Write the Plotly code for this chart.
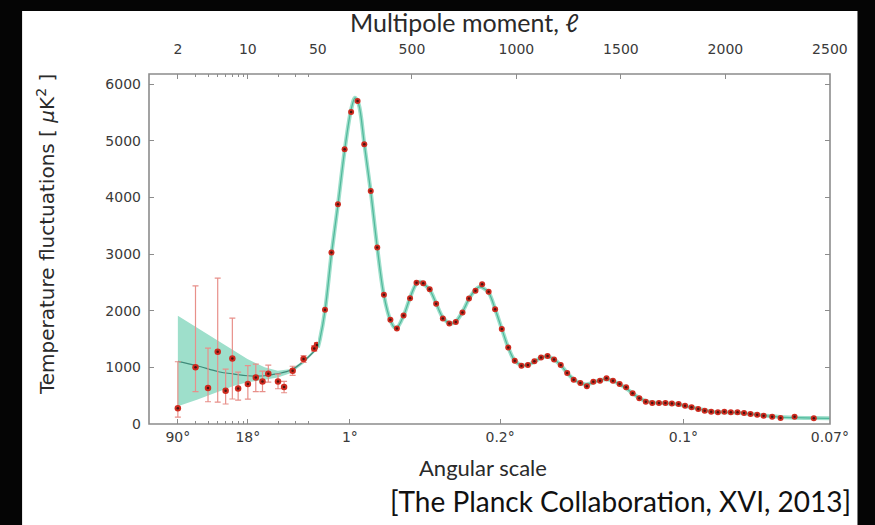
import math
import plotly.graph_objects as go

# ---------------- data ----------------
# low multipoles (log part of the axis)
low_ell = [2, 3, 4, 5, 6, 7, 8, 10, 12, 14, 16, 20, 23, 28, 36, 46, 49]
low_D = [277, 1000, 635, 1275, 587, 1158, 629, 705, 823, 752, 888, 752, 652, 940, 1146, 1335, 1393]
low_err_plus = [822, 1440, 705, 1300, 383, 712, 286, 325, 235, 180, 150, 130, 100, 80, 60, 50, 45]
low_err_minus = [154, 430, 242, 887, 234, 717, 206, 265, 253, 180, 150, 130, 100, 80, 60, 50, 45]

# high multipoles (linear part of the axis)
high_ell = [84, 115, 146, 178, 209, 240, 272, 303, 334, 366, 397, 428, 460, 491, 522, 554, 585,
            616, 648, 679, 710, 742, 773, 804, 836, 867, 898, 930, 961, 992, 1024, 1055, 1086,
            1118, 1149, 1180, 1212, 1243, 1274, 1306, 1337, 1368, 1400, 1431, 1462, 1494, 1525,
            1556, 1588, 1619, 1650, 1682, 1713, 1744, 1776, 1807, 1838, 1870, 1901, 1932, 1964,
            1995, 2026, 2058, 2089, 2120, 2152, 2183, 2224, 2264, 2331, 2423]
high_D = [2016, 3028, 3880, 4850, 5508, 5702, 4938, 4115, 3116, 2280, 1840, 1688, 1915, 2220, 2495,
          2484, 2381, 2125, 1864, 1776, 1800, 1970, 2217, 2351, 2469, 2334, 2028, 1676, 1352, 1117,
          1029, 1041, 1106, 1176, 1200, 1140, 1041, 899, 781, 723, 665, 746, 764, 806, 764, 705,
          647, 541, 453, 393, 370, 370, 370, 364, 353, 323, 294, 265, 235, 217, 206, 217, 206, 206,
          194, 176, 165, 147, 129, 106, 129, 100]

# best-fit model and cosmic-variance band
model_low_ell = [2, 3.1, 5.1, 7.3, 9.9, 14.7, 19.9, 27, 35.6, 50]
model_low_D = [1105, 1029, 923, 882, 852, 852, 888, 952, 1099, 1352]
band_low_upper = [1910, 1705, 1470, 1293, 1146, 1000, 940, 970, 1117, 1381]
band_low_lower = [312, 429, 570, 676, 735, 781, 823, 899, 1058, 1323]

model_high_ell = [50, 60, 84, 115, 146, 178, 209, 228, 245, 272, 303, 334, 366, 397, 415, 428, 460,
                  491, 522, 540, 554, 585, 616, 648, 679, 695, 710, 742, 773, 804, 822, 836, 867,
                  898, 930, 961, 992, 1024, 1055, 1086, 1118, 1149, 1180, 1212, 1243, 1274, 1306,
                  1337, 1368, 1400, 1431, 1462, 1494, 1525, 1556, 1588, 1619, 1650, 1682, 1713,
                  1744, 1776, 1807, 1838, 1870, 1901, 1932, 1964, 1995, 2026, 2058, 2089, 2120,
                  2152, 2183, 2224, 2264, 2331, 2423, 2500]
model_high_D = [1352, 1500, 2000, 3000, 3870, 4830, 5550, 5760, 5650, 4950, 4100, 3120, 2270, 1830,
                1710, 1700, 1910, 2230, 2480, 2510, 2480, 2370, 2130, 1880, 1780, 1780, 1810, 1980,
                2210, 2370, 2420, 2410, 2320, 2030, 1680, 1350, 1120, 1040, 1045, 1100, 1170, 1190,
                1140, 1040, 900, 790, 720, 700, 735, 775, 790, 760, 700, 630, 540, 460, 405, 380,
                372, 368, 360, 345, 320, 295, 268, 242, 222, 210, 206, 204, 200, 190, 177, 164, 150,
                135, 122, 112, 105, 100]

# axis ticks
top_low_ticks = [2, 10, 50]
top_high_ticks = [500, 1000, 1500, 2000, 2500]
bottom_low_ticks = [2, 10]
bottom_low_labels = ["90°", "18°"]
bottom_high_ticks = [203, 922, 1799, 2500]
bottom_high_labels = ["1°", "0.2°", "0.1°", "0.07°"]
y_ticks = [0, 1000, 2000, 3000, 4000, 5000, 6000]
minor_low = [3, 4, 5, 6, 7, 8, 9, 20, 30, 40]

# ---------------- geometry ----------------
W, H = 875, 525
L, R, T, B = 149, 830.5, 74, 424
pw, ph = R - L, B - T
split = (318 - L) / pw
LOG_RANGE = [math.log10(1.03), math.log10(50.02)]
LIN_RANGE = [49.98, 2500.5]
Y_RANGE = [0, 6180]


def px(xp):
    return (xp - L) / pw


def py(yp):
    return (B - yp) / ph


BAND = "#9edfcb"
LINE = "#3f8a79"
RED = "#cf2b1f"
ERR = "#e8908a"
AXC = "#8c8c8c"
TICKF = dict(family="DejaVu Sans", size=14, color="#3a3a3a")

fig = go.Figure()

# cosmic variance band at low ell
fig.add_trace(go.Scatter(
    x=model_low_ell + model_low_ell[::-1],
    y=band_low_upper + band_low_lower[::-1],
    xaxis="x", yaxis="y", fill="toself", fillcolor=BAND,
    line=dict(width=0), mode="lines", hoverinfo="skip", showlegend=False))
fig.add_trace(go.Scatter(x=model_low_ell, y=model_low_D, xaxis="x", yaxis="y", mode="lines",
                         line=dict(color=LINE, width=1.2, shape="spline"), showlegend=False))
# band + model at high ell
fig.add_trace(go.Scatter(x=model_high_ell, y=model_high_D, xaxis="x2", yaxis="y", mode="lines",
                         line=dict(color=BAND, width=4, shape="spline"), showlegend=False))
fig.add_trace(go.Scatter(x=model_high_ell, y=model_high_D, xaxis="x2", yaxis="y", mode="lines",
                         line=dict(color="#4fb89b", width=1.2, shape="spline"), showlegend=False))

# data
fig.add_trace(go.Scatter(
    x=low_ell, y=low_D, xaxis="x", yaxis="y", mode="markers",
    marker=dict(color=RED, size=6.5),
    error_y=dict(type="data", symmetric=False, array=low_err_plus, arrayminus=low_err_minus,
                 color=ERR, thickness=1.2, width=3),
    showlegend=False))
fig.add_trace(go.Scatter(x=high_ell, y=high_D, xaxis="x2", yaxis="y", mode="markers",
                         marker=dict(color=RED, size=6), showlegend=False))
# dark centres
fig.add_trace(go.Scatter(x=low_ell, y=low_D, xaxis="x", yaxis="y", mode="markers",
                         marker=dict(color="#4a1410", size=2.5), showlegend=False, hoverinfo="skip"))
fig.add_trace(go.Scatter(x=high_ell, y=high_D, xaxis="x2", yaxis="y", mode="markers",
                         marker=dict(color="#4a1410", size=2.5), showlegend=False, hoverinfo="skip"))

# invisible carriers so that the secondary (angular-scale and right-hand) axes are drawn
fig.add_trace(go.Scatter(x=low_ell, y=low_D, xaxis="x3", yaxis="y", mode="markers",
                         marker=dict(color="rgba(0,0,0,0)", size=1), hoverinfo="skip",
                         showlegend=False))
fig.add_trace(go.Scatter(x=high_ell, y=high_D, xaxis="x4", yaxis="y", mode="markers",
                         marker=dict(color="rgba(0,0,0,0)", size=1), hoverinfo="skip",
                         showlegend=False))
fig.add_trace(go.Scatter(x=high_ell, y=high_D, xaxis="x2", yaxis="y2", mode="markers",
                         marker=dict(color="rgba(0,0,0,0)", size=1), hoverinfo="skip",
                         showlegend=False))

common = dict(showgrid=False, zeroline=False, showline=False, ticks="inside",
              tickcolor=AXC, ticklen=5, tickwidth=1, tickfont=TICKF)

fig.update_layout(
    width=W, height=H,
    margin=dict(l=L, r=W - R, t=T, b=H - B, pad=0),
    paper_bgcolor="#050505", plot_bgcolor="white",
    xaxis=dict(type="log", domain=[0, split], range=LOG_RANGE, side="top", anchor="y",
               tickmode="array", tickvals=top_low_ticks, ticktext=[str(v) for v in top_low_ticks],
               ticklabelstandoff=16,
               minor=dict(ticks="inside", ticklen=3, tickcolor=AXC, tickvals=minor_low),
               **common),
    xaxis2=dict(type="linear", domain=[split, 1], range=LIN_RANGE, side="top", anchor="y",
                tickmode="array", tickvals=top_high_ticks, ticklabelstandoff=16, **common),
    xaxis3=dict(type="log", overlaying="x", range=LOG_RANGE, side="bottom", anchor="y",
                tickmode="array", tickvals=bottom_low_ticks, ticktext=bottom_low_labels,
                ticklabelstandoff=3,
                minor=dict(ticks="inside", ticklen=3, tickcolor=AXC, tickvals=minor_low),
                **common),
    xaxis4=dict(type="linear", overlaying="x2", range=LIN_RANGE, side="bottom", anchor="y",
                tickmode="array", tickvals=bottom_high_ticks, ticktext=bottom_high_labels,
                ticklabelstandoff=3, **common),
    yaxis=dict(range=Y_RANGE, domain=[0, 1], anchor="x", side="left", tickmode="array",
               tickvals=y_ticks, ticklabelstandoff=7, **common),
    yaxis2=dict(range=Y_RANGE, overlaying="y", anchor="x2", side="right", tickmode="array",
                tickvals=y_ticks, showticklabels=False, **common),
)

# white slide panel behind everything and the plot frame
fig.add_shape(type="rect", xref="paper", yref="paper", layer="below",
              x0=px(22), x1=px(858), y0=py(11), y1=py(525),
              fillcolor="white", line=dict(width=0))
fig.add_shape(type="rect", xref="paper", yref="paper", layer="above",
              x0=0, x1=1, y0=0, y1=1, line=dict(color=AXC, width=1.6))

ann_font = "Lato, 'Open Sans', sans-serif"
fig.add_annotation(text="Multipole moment, <i>ℓ</i>", xref="paper", yref="paper",
                   x=px(464), y=py(22), xanchor="center", yanchor="middle", showarrow=False,
                   font=dict(family=ann_font, size=25, color="#2a2a2a"))
fig.add_annotation(text="Angular scale", xref="paper", yref="paper",
                   x=px(483), y=py(467), xanchor="center", yanchor="middle", showarrow=False,
                   font=dict(family=ann_font, size=22, color="#2a2a2a"))
fig.add_annotation(text="Temperature fluctuations [ <i>μ</i>K<sup>2</sup> ]", xref="paper",
                   yref="paper", x=px(46), y=py(235), xanchor="center", yanchor="middle",
                   showarrow=False, textangle=-90,
                   font=dict(family="DejaVu Sans", size=20, color="#2a2a2a"))
fig.add_annotation(text="[The Planck Collaboration, XVI, 2013]", xref="paper", yref="paper",
                   x=px(854), y=py(501), xanchor="right", yanchor="middle", showarrow=False,
                   font=dict(family=ann_font, size=28, color="#111111"))

fig.write_html("out.html")
